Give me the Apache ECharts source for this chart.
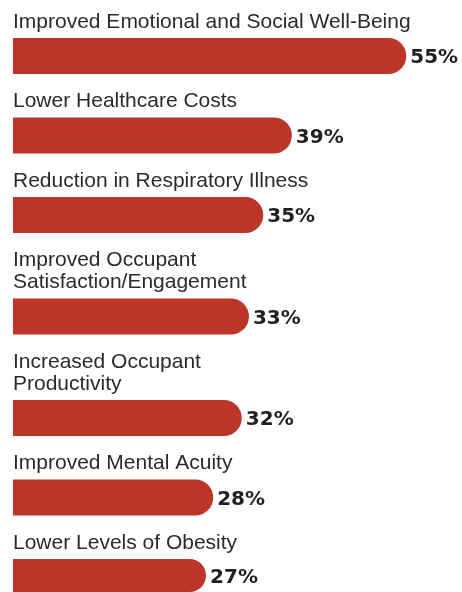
<!DOCTYPE html>
<html>
<head>
<meta charset="utf-8">
<script src="https://cdn.jsdelivr.net/npm/echarts@6/dist/echarts.min.js"></script>
<style>
  html, body { margin: 0; padding: 0; background: #ffffff; }
  #chart { width: 462px; height: 592px; }
</style>
</head>
<body>
<div id="chart"></div>
<script>
// Benefits of healthy buildings: share of respondents (%)
const categories = [
  'Improved Emotional and Social Well-Being',
  'Lower Healthcare Costs',
  'Reduction in Respiratory Illness',
  'Improved Occupant\nSatisfaction/Engagement',
  'Increased Occupant\nProductivity',
  'Improved Mental Acuity',
  'Lower Levels of Obesity'
];
const values = [55, 39, 35, 33, 32, 28, 27];

// Layout constants (pixels)
const BAR_H = 36;
const LINE_H = 22;
const FIRST_TOP = 38;
const BLOCK_GAP = 21.5;
const LEFT = 13;
const AXIS_MAX = 60;

const grids = [], xAxes = [], yAxes = [], series = [];
let barTop = FIRST_TOP;
categories.forEach((cat, i) => {
  const lines = cat.split('\n').length;
  if (i > 0) barTop += BAR_H + BLOCK_GAP + lines * LINE_H;
  grids.push({ left: LEFT, right: 20, top: barTop, height: BAR_H });
  xAxes.push({
    gridIndex: i, type: 'value', min: 0, max: AXIS_MAX,
    show: false
  });
  // The category name sits above its bar as the axis name
  yAxes.push({
    gridIndex: i, type: 'category', data: [cat],
    axisLine: { show: false }, axisTick: { show: false },
    axisLabel: { show: false }, splitLine: { show: false },
    name: cat, nameLocation: 'end', nameGap: 5,
    nameTextStyle: {
      align: 'left', verticalAlign: 'bottom',
      fontFamily: '"Liberation Sans Narrow", sans-serif',
      fontSize: 21, lineHeight: LINE_H, color: '#2b2b2b'
    }
  });
  series.push({
    type: 'bar', xAxisIndex: i, yAxisIndex: i,
    data: [values[i]], barWidth: BAR_H,
    itemStyle: { color: '#bd3428', borderRadius: [0, BAR_H / 2, BAR_H / 2, 0] },
    label: {
      show: true, position: 'right', distance: 4, offset: [0, 2],
      formatter: '{c}%',
      fontFamily: '"DejaVu Sans", sans-serif', fontWeight: 'bold',
      fontSize: 20, color: '#231f20'
    },
    silent: true, animation: false
  });
});

const chart = echarts.init(document.getElementById('chart'), null, { renderer: 'canvas' });
chart.setOption({
  backgroundColor: '#ffffff',
  animation: false,
  grid: grids, xAxis: xAxes, yAxis: yAxes, series: series
});
</script>
</body>
</html>
